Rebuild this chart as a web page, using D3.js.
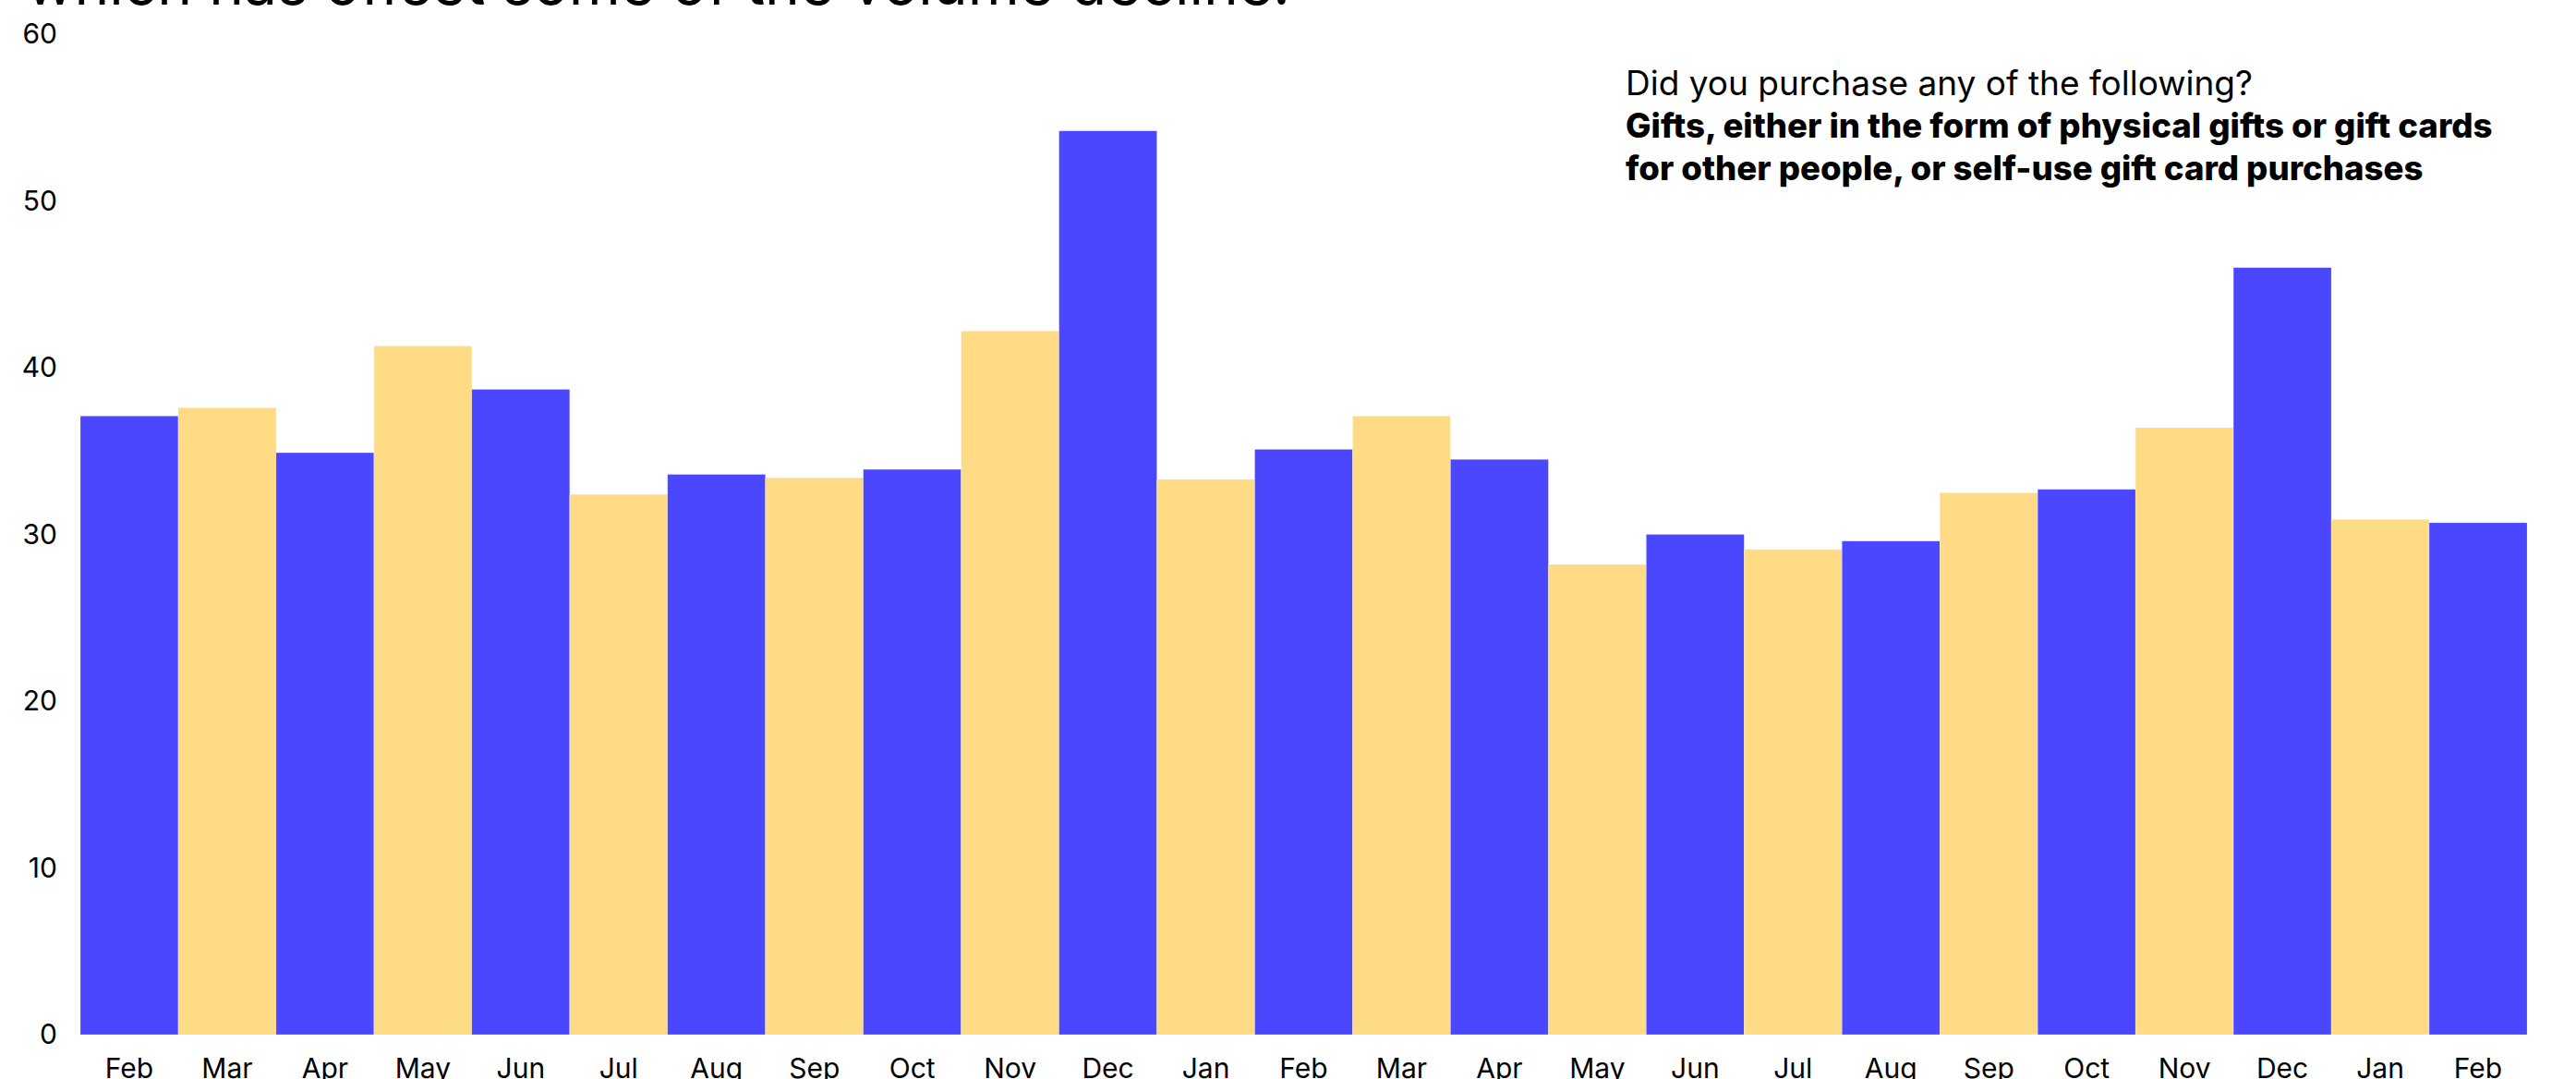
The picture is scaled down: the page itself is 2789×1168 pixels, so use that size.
<!DOCTYPE html>
<html>
<head>
<meta charset="utf-8">
<script src="https://cdn.jsdelivr.net/npm/d3@7"></script>
<style>
  html, body { margin: 0; padding: 0; background: #fff; overflow: hidden; }
  svg { display: block; }
  text { font-family: Inter, "Noto Sans", sans-serif; fill: #000; }
</style>
</head>
<body>
<script>
// ---- data ----
const months = ["Feb","Mar","Apr","May","Jun","Jul","Aug","Sep","Oct","Nov","Dec","Jan",
                "Feb","Mar","Apr","May","Jun","Jul","Aug","Sep","Oct","Nov","Dec","Jan","Feb"];
const values = [37.1, 37.6, 34.9, 41.3, 38.7, 32.4, 33.6, 33.4, 33.9, 42.2, 54.2, 33.3,
                35.1, 37.1, 34.5, 28.2, 30.0, 29.1, 29.6, 32.5, 32.7, 36.4, 46.0, 30.9, 30.7];
const yTicks = [0, 10, 20, 30, 40, 50, 60];
const palette = ["#4b47ff", "#fedb84"];
const titleText = "which has offset some of the volume decline.";
const noteLines = [
  "Did you purchase any of the following?",
  "Gifts, either in the form of physical gifts or gift cards",
  "for other people, or self-use gift card purchases"
];

// ---- chart ----
const W = 2789, H = 1168;
const svg = d3.select("body").append("svg").attr("width", W).attr("height", H);

const idx = d3.range(months.length);
const x = d3.scaleBand().domain(idx).range([87, 2736]).padding(0);
const y = d3.scaleLinear().domain([0, 60]).range([1120, 37]);

// title (cut at top)
svg.append("text")
  .attr("x", 28).attr("y", 5)
  .attr("font-size", 64)
  .text(titleText);

// bars
svg.append("g").selectAll("rect")
  .data(values)
  .join("rect")
  .attr("x", (d, i) => x(i))
  .attr("width", x.bandwidth())
  .attr("y", d => y(d))
  .attr("height", d => y(0) - y(d))
  .attr("fill", (d, i) => palette[i % 2])
  .attr("stroke", "#ffffff")
  .attr("stroke-opacity", 0.35)
  .attr("stroke-width", 0.6);

// y axis
const yAxis = svg.append("g")
  .attr("transform", `translate(${x.range()[0]},0)`)
  .call(d3.axisLeft(y).tickValues(yTicks).tickSize(0).tickPadding(25));
yAxis.select(".domain").remove();
yAxis.selectAll("text")
  .attr("font-family", "Inter, 'Noto Sans', sans-serif")
  .attr("font-size", 30)
  .attr("fill", "#000");

// x axis
const xAxis = svg.append("g")
  .attr("transform", `translate(0,${y(0)})`)
  .call(d3.axisBottom(x).tickFormat(i => months[i]).tickSize(0).tickPadding(26));
xAxis.select(".domain").remove();
xAxis.selectAll("text")
  .attr("font-family", "Inter, 'Noto Sans', sans-serif")
  .attr("font-size", 30)
  .attr("fill", "#000");

// note
const note = svg.append("text").attr("x", 1760).attr("y", 103);
note.append("tspan").attr("x", 1760).attr("y", 103).attr("font-size", 37).attr("font-weight", 400).text(noteLines[0]);
note.append("tspan").attr("x", 1760).attr("y", 149).attr("font-size", 36.6).attr("font-weight", 800)
  .text(noteLines[1]);
note.append("tspan").attr("x", 1760).attr("y", 195).attr("font-size", 36.6).attr("font-weight", 800)
  .text(noteLines[2]);
</script>
</body>
</html>
